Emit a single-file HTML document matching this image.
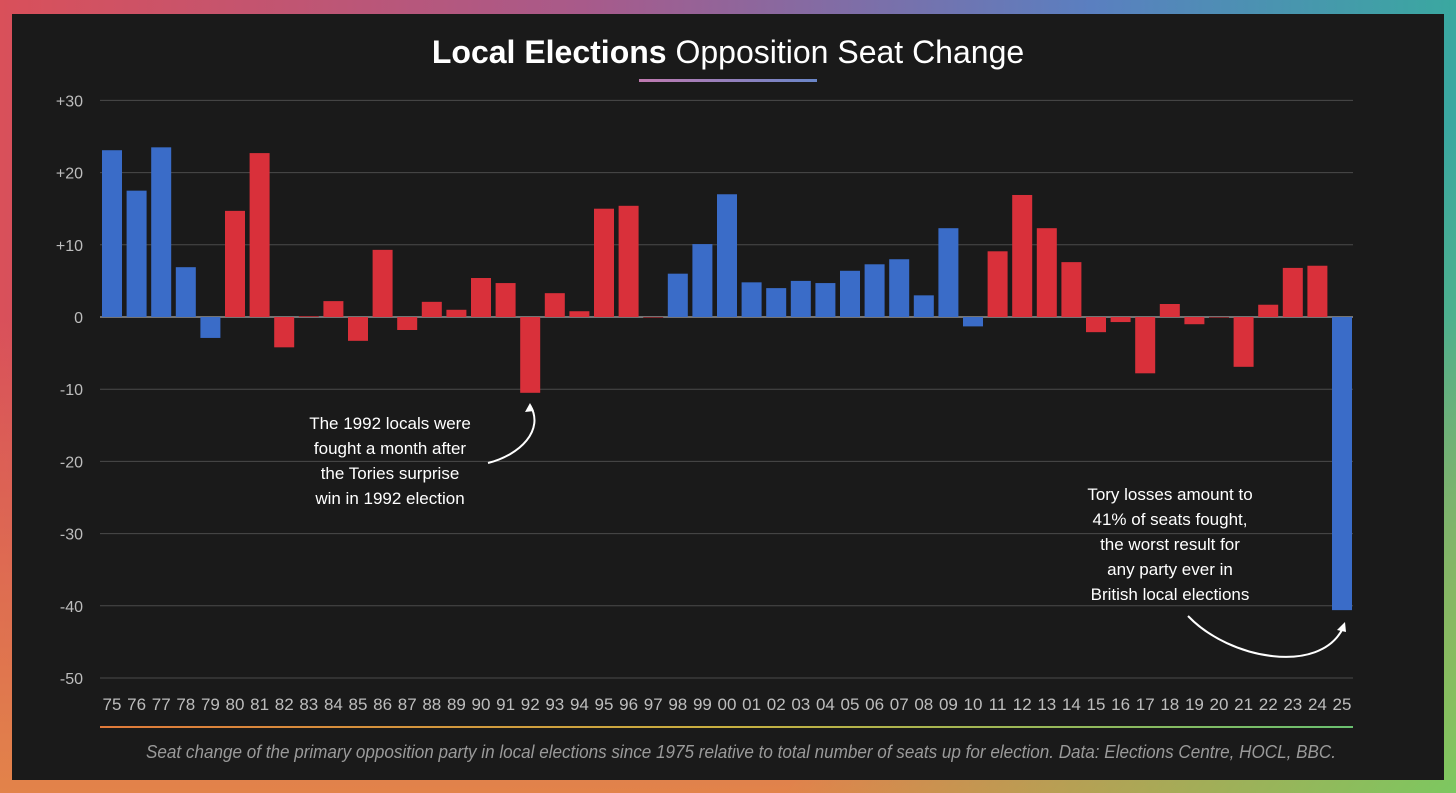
<!DOCTYPE html>
<html><head><meta charset="utf-8"><style>
html,body{margin:0;padding:0;}
body{width:1456px;height:793px;overflow:hidden;background:linear-gradient(90deg,#d9505a 0%,#a85a8a 40%,#5a7fc0 75%,#3aa8a0 100%);position:relative;font-family:"Liberation Sans",sans-serif;}
#bl{position:absolute;left:0;top:0;width:1456px;height:793px;background:linear-gradient(0deg,#e2834a 0%,rgba(226,131,74,0) 60%);}
#br{position:absolute;left:0;top:0;width:1456px;height:793px;background:linear-gradient(315deg,#7cc860 0%,rgba(124,200,96,0) 30%);}
#panel{position:absolute;left:12px;top:14px;width:1432px;height:766px;background:#1a1a1a;}
svg{position:absolute;left:0;top:0;}
</style></head><body>
<div id="bl"></div>
<div id="br"></div>
<div id="panel"></div>
<svg id="chart" width="1456" height="793">
<defs>
<linearGradient id="ul" x1="0" x2="1"><stop offset="0" stop-color="#c07ab0"/><stop offset="1" stop-color="#6a86c8"/></linearGradient>
<linearGradient id="fl" x1="0" x2="1"><stop offset="0" stop-color="#e07a3a"/><stop offset="0.5" stop-color="#c8b040"/><stop offset="1" stop-color="#6ac070"/></linearGradient>
</defs>
<text x="728" y="63" text-anchor="middle" font-size="32" fill="#fff"><tspan font-weight="bold">Local Elections</tspan> Opposition Seat Change</text>
<rect x="639" y="79" width="178" height="3" fill="url(#ul)"/>
<g id="grid"></g><g id="bars"></g><g id="xl"></g>
<rect x="100" y="726" width="1253" height="2" fill="url(#fl)"/>
<text x="1336" y="758" text-anchor="end" font-size="18" font-style="italic" fill="#9a9a9a" textLength="1190" lengthAdjust="spacingAndGlyphs">Seat change of the primary opposition party in local elections since 1975 relative to total number of seats up for election. Data: Elections Centre, HOCL, BBC.</text>
<g fill="#fff" font-size="17" text-anchor="middle">
<text x="390" y="429">The 1992 locals were</text><text x="390" y="454">fought a month after</text><text x="390" y="479">the Tories surprise</text><text x="390" y="504">win in 1992 election</text></g>
<path d="M488 463 C520 455 545 430 530 405" stroke="#fff" stroke-width="2" fill="none"/>
<path d="M530 403 l-5 9 l9 -1 z" fill="#fff"/>
<g fill="#fff" font-size="17" text-anchor="middle">
<text x="1170" y="500">Tory losses amount to</text><text x="1170" y="525">41% of seats fought,</text><text x="1170" y="550">the worst result for</text><text x="1170" y="575">any party ever in</text><text x="1170" y="600">British local elections</text></g>
<path d="M1188 616 C1230 660 1320 675 1343 628" stroke="#fff" stroke-width="2" fill="none"/>
<path d="M1345 622 l-8 8 l9 2 z" fill="#fff"/>
</svg>
<script>
const years=["75","76","77","78","79","80","81","82","83","84","85","86","87","88","89","90","91","92","93","94","95","96","97","98","99","00","01","02","03","04","05","06","07","08","09","10","11","12","13","14","15","16","17","18","19","20","21","22","23","24","25"];
const values=[23.1,17.5,23.5,6.9,-2.9,14.7,22.7,-4.2,0.1,2.2,-3.3,9.3,-1.8,2.1,1.0,5.4,4.7,-10.5,3.3,0.8,15.0,15.4,0,6.0,10.1,17.0,4.8,4.0,5.0,4.7,6.4,7.3,8.0,3.0,12.3,-1.3,9.1,16.9,12.3,7.6,-2.1,-0.7,-7.8,1.8,-1.0,0,-6.9,1.7,6.8,7.1,-40.6];
const party=["b","b","b","b","b","r","r","r","r","r","r","r","r","r","r","r","r","r","r","r","r","r","r","b","b","b","b","b","b","b","b","b","b","b","b","b","r","r","r","r","r","r","r","r","r","r","r","r","r","r","b"];
const yTicks=[30,20,10,0,-10,-20,-30,-40,-50];
const yTickLabels=["+30","+20","+10","0","-10","-20","-30","-40","-50"];
const NS="http://www.w3.org/2000/svg";
const y=v=>317-v*7.22;
const x=i=>112+i*24.6;
const grid=document.getElementById('grid'),bars=document.getElementById('bars'),xl=document.getElementById('xl');
yTicks.forEach((t,i)=>{
 const l=document.createElementNS(NS,'line');
 l.setAttribute('x1',100);l.setAttribute('x2',1353);l.setAttribute('y1',y(t));l.setAttribute('y2',y(t));
 l.setAttribute('stroke',t===0?'#cfcfcf':'#4a4a4a');l.setAttribute('stroke-width',1);
 
 
 grid.appendChild(l);
 const tx=document.createElementNS(NS,'text');
 tx.setAttribute('x',83);tx.setAttribute('y',y(t)+6);tx.setAttribute('text-anchor','end');
 tx.setAttribute('font-size',16);tx.setAttribute('fill','#bdbdbd');tx.textContent=yTickLabels[i];
 
 
 grid.appendChild(tx);
});
years.forEach((yr,i)=>{
 const v=values[i];
 const r=document.createElementNS(NS,'rect');
 r.setAttribute('x',x(i)-10);r.setAttribute('width',20);
 r.setAttribute('y',Math.min(y(v),y(0)));r.setAttribute('height',Math.max(Math.abs(y(v)-y(0)),0.5));
 r.setAttribute('fill',party[i]==='b'?'#3a6cc8':'#d9303a');
 
 
 bars.appendChild(r);
 const t=document.createElementNS(NS,'text');
 t.setAttribute('x',x(i));t.setAttribute('y',710);t.setAttribute('text-anchor','middle');
 t.setAttribute('font-size',17);t.setAttribute('fill','#bdbdbd');t.textContent=yr;
 
 
 xl.appendChild(t);
});
</script>
</body></html>
